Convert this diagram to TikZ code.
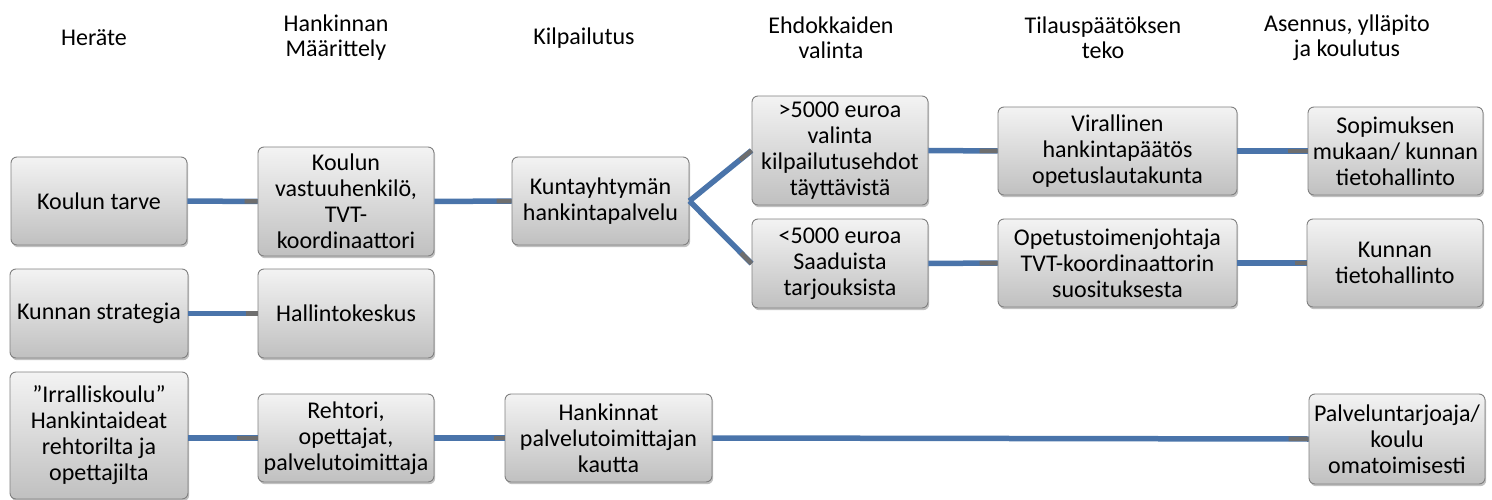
\documentclass[tikz,border=0pt]{standalone}
\usepackage{fontspec}
\setmainfont{Carlito}
\usetikzlibrary{calc,shadows}
\definecolor{linkblue}{HTML}{4A74AA}
\definecolor{linkgray}{HTML}{6E6E6E}
\definecolor{boxtop}{HTML}{F3F3F3}
\definecolor{boxbot}{HTML}{C0C0C0}
\definecolor{boxline}{HTML}{808080}
\tikzset{
  pbox/.style={draw=boxline, line width=0.9pt, rounded corners=6pt,
    top color=boxtop, bottom color=boxbot, align=center, inner sep=0pt,
    font=\fontsize{24}{26}\selectfont,
    drop shadow={shadow xshift=1.2pt, shadow yshift=-2.2pt, opacity=0.35, fill=black!70}},
  phead/.style={align=center, inner sep=0pt, font=\fontsize{24}{25}\selectfont},
  bluelink/.style={draw=linkblue, line width=5.5pt},
  graylink/.style={draw=linkgray, line width=4.5pt},
}
\newcommand\linkto[3][15]{%
  \draw[bluelink] (#2) -- (#3);
  \draw[graylink] ($(#3)!#1pt!(#2)$) -- (#3);
}
\begin{document}
\begin{tikzpicture}[x=1pt,y=-1pt]
\useasboundingbox (0,0) rectangle (1492,500);
% headers
\node[phead] (h1) at (94,38) {Heräte};
\node[phead] (h2) at (336,38) {Hankinnan\\Määrittely};
\node[phead] (h3) at (584,38) {Kilpailutus};
\node[phead] (h4) at (831,38) {Ehdokkaiden\\valinta};
\node[phead] (h5) at (1103,38) {Tilauspäätöksen\\teko};
\node[phead] (h6) at (1347,38) {Asennus, ylläpito\\ja koulutus};
% boxes
\node[pbox, minimum width=176pt, minimum height=88pt] (koulu) at (99,201) {Koulun tarve};
\node[pbox, minimum width=176pt, minimum height=109pt] (vastuu) at (346,201.5) {Koulun\\vastuuhenkilö,\\TVT-\\koordinaattori};
\node[pbox, minimum width=177pt, minimum height=88pt] (kunta) at (600.5,201) {Kuntayhtymän\\hankintapalvelu};
\node[pbox, minimum width=176pt, minimum height=109pt] (yli) at (840,150.5) {>5000 euroa\\valinta\\kilpailutusehdot\\täyttävistä};
\node[pbox, minimum width=176pt, minimum height=89pt] (ali) at (840,263.5) {<5000 euroa\\Saaduista\\tarjouksista};
\node[pbox, minimum width=239pt, minimum height=88pt] (viral) at (1117.5,151) {Virallinen\\hankintapäätös\\opetuslautakunta};
\node[pbox, minimum width=239pt, minimum height=88pt] (opetus) at (1117.5,263) {Opetustoimenjohtaja\\TVT-koordinaattorin\\suosituksesta};
\node[pbox, minimum width=175pt, minimum height=88pt] (sopim) at (1395.5,151) {Sopimuksen\\mukaan/ kunnan\\tietohallinto};
\node[pbox, minimum width=176pt, minimum height=88pt] (kunnati) at (1395,263) {Kunnan\\tietohallinto};
\node[pbox, minimum width=178pt, minimum height=89pt] (strat) at (99,313.5) {Kunnan strategia};
\node[pbox, minimum width=176pt, minimum height=89pt] (hallinto) at (346,313.5) {Hallintokeskus};
\node[pbox, minimum width=178pt, minimum height=127pt] (irral) at (99,435.5) {”Irralliskoulu”\\Hankintaideat\\rehtorilta ja\\opettajilta};
\node[pbox, minimum width=176pt, minimum height=88pt] (rehtori) at (346,438) {Rehtori,\\opettajat,\\palvelutoimittaja};
\node[pbox, minimum width=207pt, minimum height=88pt] (hank) at (608.5,438) {Hankinnat\\palvelutoimittajan\\kautta};
\node[pbox, minimum width=176pt, minimum height=90pt] (palvelu) at (1397,439) {Palveluntarjoaja/\\koulu\\omatoimisesti};
\coordinate (irralout) at (rehtori.west -| irral.east);
% connectors
\linkto[13]{koulu.east}{vastuu.west}
\linkto[15]{vastuu.east}{kunta.west}
\linkto[15]{kunta.east}{yli.west}
\linkto[15]{kunta.east}{ali.west}
\linkto[18]{yli.east}{viral.west}
\linkto[18]{ali.east}{opetus.west}
\linkto[20]{viral.east}{sopim.west}
\linkto[12]{opetus.east}{kunnati.west}
\linkto[12]{strat.east}{hallinto.west}
\linkto[21]{irralout}{rehtori.west}
\linkto[11]{rehtori.east}{hank.west}
\linkto[20]{hank.east}{palvelu.west}
\end{tikzpicture}
\end{document}
